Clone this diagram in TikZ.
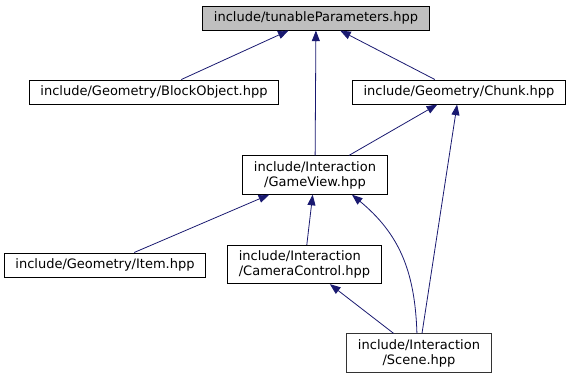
\documentclass[tikz,border=0pt]{standalone}
\usepackage{fontspec}
\setmainfont{DejaVu Sans}
\usetikzlibrary{arrows.meta}

\definecolor{edgeblue}{HTML}{191970}

\begin{document}
\begin{tikzpicture}[x=0.75pt, y=-0.75pt,
   every node/.style={draw, rectangle, fill=white, line width=0.75pt,
      inner xsep=8.25pt, inner ysep=4pt, minimum height=18pt,
      font=\fontsize{9.75}{11.25}\selectfont, align=center},
   root/.style={fill=black!25},
   inc/.style={draw=edgeblue, line width=0.6pt,
      -{Triangle[length=8pt, width=6pt]}}]

\useasboundingbox (0,0) rectangle (569,380);

% header files, one box each
\node[root] (tunable)  at (316,18)  {include/tunableParameters.hpp};
\node       (block)    at (154,92)  {include/Geometry/BlockObject.hpp};
\node       (chunk)    at (459,92)  {include/Geometry/Chunk.hpp};
\node       (gameview) at (315,175) {include/Interaction\\/GameView.hpp};
\node       (item)     at (105,265) {include/Geometry/Item.hpp};
\node[align=left] (camera) at (304.5,264.5) {include/Interaction\\/CameraControl.hpp};
\node[draw=black!80] (scene) at (419,353) {include/Interaction\\/Scene.hpp};

% who includes whom
\draw[inc] (block)    -- (tunable);
\draw[inc] (gameview) -- (tunable);
\draw[inc] (chunk)    -- (tunable);
\draw[inc] (gameview) -- (chunk);
\draw[inc] (scene)    -- (chunk);
\draw[inc] (item)     -- (gameview);
\draw[inc] (camera)   -- (gameview);
\draw[inc] (scene.96) .. controls +(-2,-63) and +(47,39) .. (gameview.-28);
\draw[inc] (scene)    -- (camera);

\end{tikzpicture}
\end{document}
